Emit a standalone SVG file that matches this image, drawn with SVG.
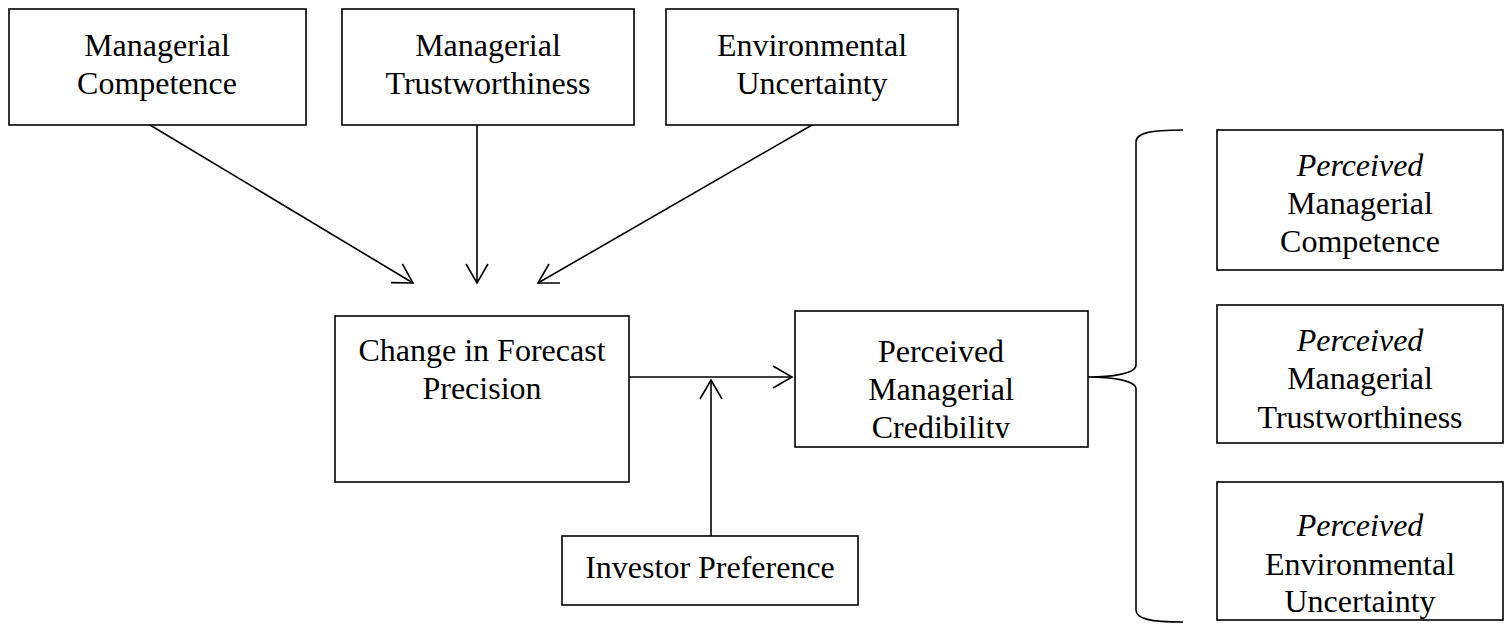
<svg xmlns="http://www.w3.org/2000/svg" width="1505" height="625" viewBox="0 0 1505 625">
<defs>
<style>
.box{fill:#fff;stroke:#000;stroke-width:1.6}
.t{font-family:"Liberation Serif","Times New Roman",serif;font-size:32px;fill:#000;text-anchor:middle}
.i{font-style:italic}
.ln{stroke:#000;stroke-width:1.6;fill:none}
</style>
<marker id="ah" viewBox="0 0 24 24" refX="22" refY="12" markerWidth="24" markerHeight="24" markerUnits="userSpaceOnUse" orient="auto">
<path d="M3,1 L22,12 L3,23" fill="none" stroke="#000" stroke-width="1.6"/>
</marker>
<clipPath id="clipE"><rect x="795" y="311" width="293" height="127"/></clipPath>
</defs>
<g id="connectors">
<line class="ln" x1="150" y1="125" x2="413" y2="283" marker-end="url(#ah)"/>
<line class="ln" x1="477" y1="125" x2="477" y2="283" marker-end="url(#ah)"/>
<line class="ln" x1="812" y1="125" x2="538" y2="283" marker-end="url(#ah)"/>
<line class="ln" x1="629" y1="377" x2="792" y2="377" marker-end="url(#ah)"/>
<line class="ln" x1="711" y1="536" x2="711" y2="380" marker-end="url(#ah)"/>
<path class="ln" stroke-width="2" d="M1183,130 C1150,130 1136,133 1136,142 L1136,365 C1136,374 1110,377 1088,377 C1110,377 1136,380 1136,389 L1136,610 C1136,619 1150,622 1183,622"/>
</g>
<g id="managerial-competence">
<rect class="box" x="9" y="9" width="297" height="116"/>
<text class="t" x="157" y="56">Managerial</text>
<text class="t" x="157" y="94">Competence</text>
</g>
<g id="managerial-trustworthiness">
<rect class="box" x="342" y="9" width="292" height="116"/>
<text class="t" x="488" y="56">Managerial</text>
<text class="t" x="488" y="94">Trustworthiness</text>
</g>
<g id="environmental-uncertainty">
<rect class="box" x="666" y="9" width="292" height="116"/>
<text class="t" x="812" y="56">Environmental</text>
<text class="t" x="812" y="94">Uncertainty</text>
</g>
<g id="change-in-forecast-precision">
<rect class="box" x="335" y="316" width="294" height="166"/>
<text class="t" x="482" y="361">Change in Forecast</text>
<text class="t" x="482" y="399">Precision</text>
</g>
<g id="perceived-managerial-credibility">
<rect class="box" x="795" y="311" width="293" height="136"/>
<g clip-path="url(#clipE)">
<text class="t" x="941" y="362">Perceived</text>
<text class="t" x="941" y="400">Managerial</text>
<text class="t" x="941" y="438">Credibility</text>
</g>
</g>
<g id="investor-preference">
<rect class="box" x="562" y="536" width="296" height="69"/>
<text class="t" x="710" y="578">Investor Preference</text>
</g>
<g id="perceived-managerial-competence">
<rect class="box" x="1217" y="130" width="286" height="140"/>
<text class="t i" x="1360" y="176">Perceived</text>
<text class="t" x="1360" y="214">Managerial</text>
<text class="t" x="1360" y="252">Competence</text>
</g>
<g id="perceived-managerial-trustworthiness">
<rect class="box" x="1217" y="305" width="286" height="138"/>
<text class="t i" x="1360" y="351">Perceived</text>
<text class="t" x="1360" y="389">Managerial</text>
<text class="t" x="1360" y="428">Trustworthiness</text>
</g>
<g id="perceived-environmental-uncertainty">
<rect class="box" x="1217" y="482" width="286" height="138"/>
<text class="t i" x="1360" y="536">Perceived</text>
<text class="t" x="1360" y="575">Environmental</text>
<text class="t" x="1360" y="612">Uncertainty</text>
</g>
</svg>
